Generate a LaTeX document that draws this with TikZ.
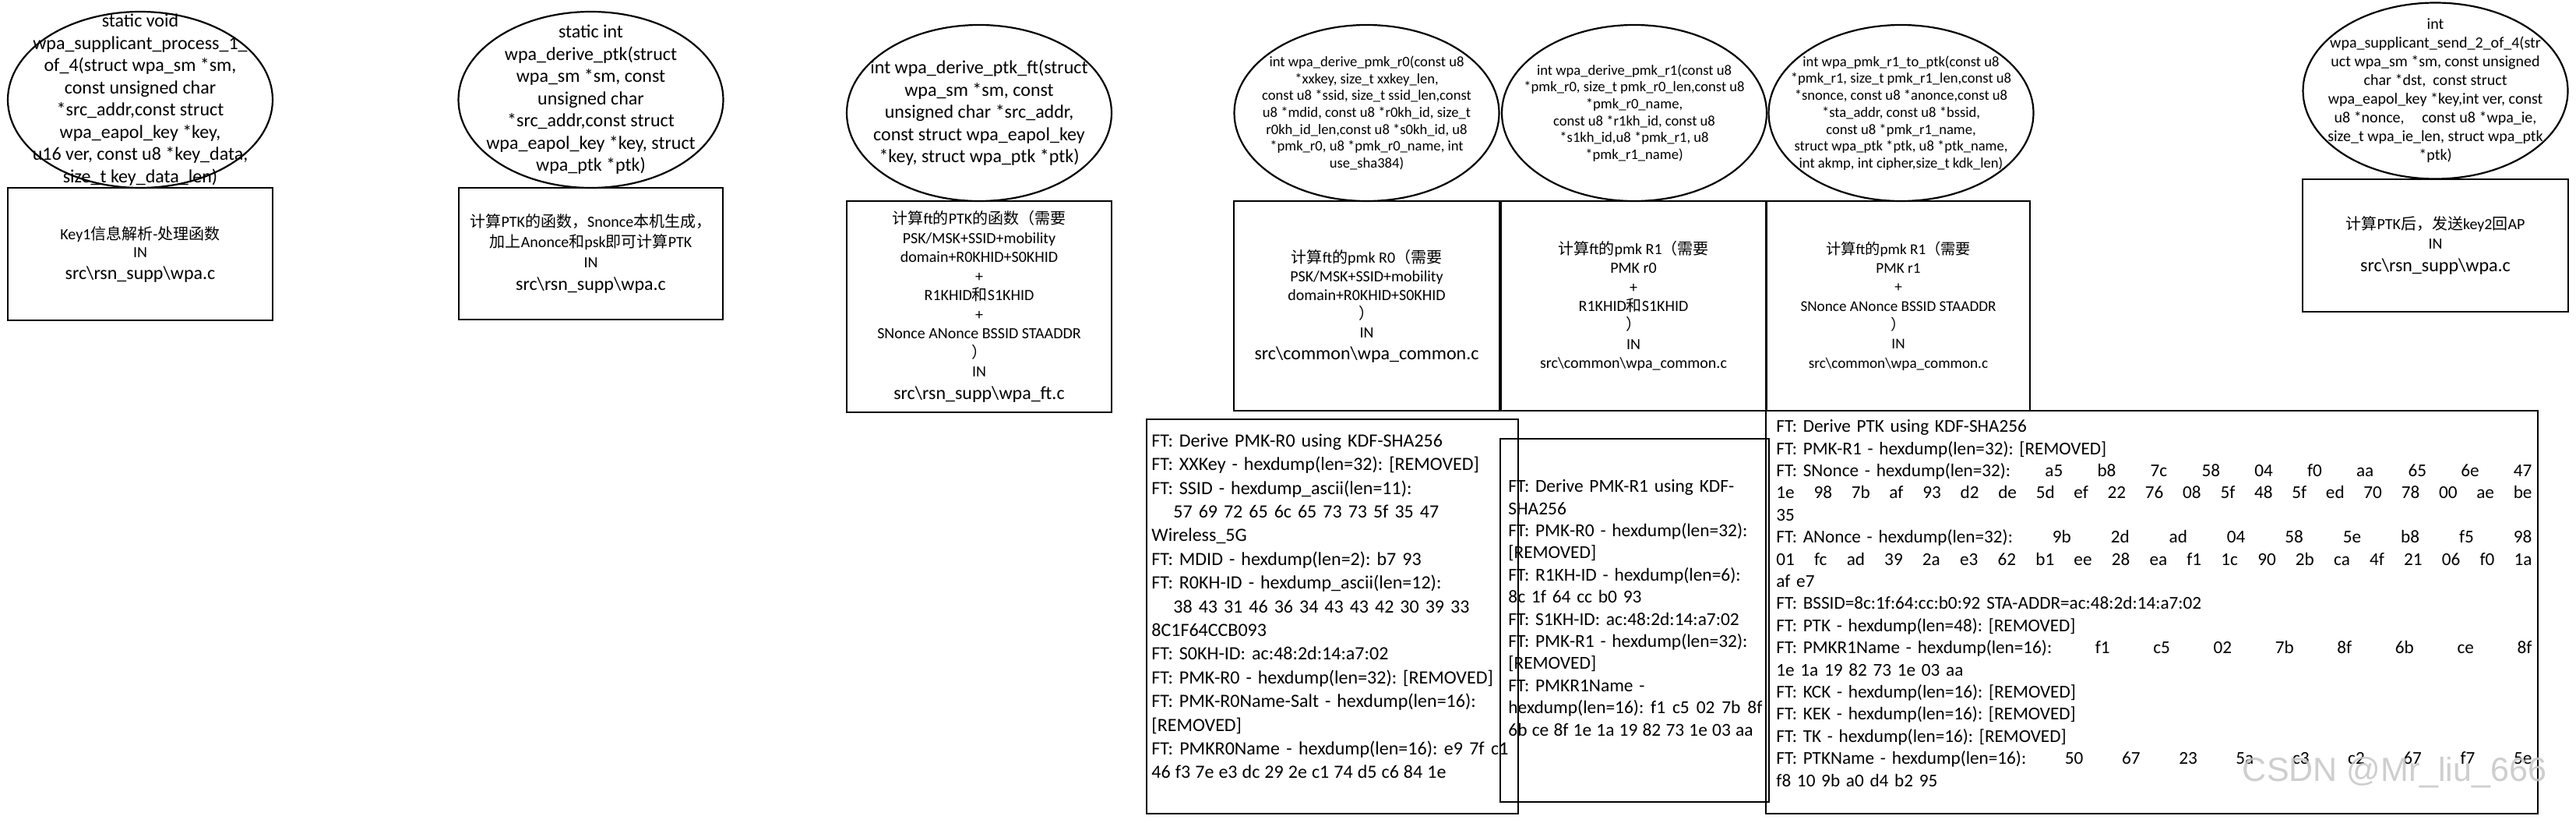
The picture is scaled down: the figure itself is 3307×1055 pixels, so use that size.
\documentclass[tikz,border=0pt]{standalone}
\usepackage{fontspec}
\setmainfont{Carlito}
\newfontfamily\cjk{Noto Sans CJK SC}
\newfontfamily\wmfont{Liberation Sans}
\usetikzlibrary{shapes.geometric}
\newcommand\zh[1]{{\cjk #1}}
\newcommand\sq[2]{\leavevmode\hbox to #1{\spaceskip=\fontdimen2\font plus 1fil minus 0.5\fontdimen2\font\relax #2}}
\newcommand\jt[3]{\leavevmode\hbox to #1{#2{\spaceskip=\fontdimen2\font plus 1fil\relax\space#3}}}
\newcommand\BSL{\textbackslash}
\newcommand\fsz[2]{\fontsize{#1}{#2}\selectfont}
\frenchspacing
\tikzset{
  ell/.style={draw, ellipse, line width=1.1pt, inner sep=0pt, minimum width=170pt, minimum height=113pt},
  etext/.style={align=center, inner sep=0pt, font=\fsz{12}{14.25}},
  esmall/.style={align=center, inner sep=0pt, font=\fsz{9.3}{10.85}},
  box/.style={draw, rectangle, line width=1.1pt, inner sep=0pt, align=center},
  logtext/.style={align=left, inner sep=0pt, anchor=west},
}
\begin{document}
\begin{tikzpicture}[x=0.5pt,y=-0.5pt]
\fill[white] (0,0) rectangle (3307,1055);
\useasboundingbox (0,0) rectangle (3307,1055);

% ---------- ellipses ----------
\node[ell] (e1) at (180,128) {};
\node[etext] (t1) at (e1.center) {static void\\ wpa\_supplicant\_process\_1\_\\ of\_4(struct wpa\_sm *sm,\\ const unsigned char\\ {}*src\_addr,const struct\\ wpa\_eapol\_key *key,\\ u16 ver, const u8 *key\_data,\\ size\_t key\_data\_len)};

\node[ell] (e2) at (758.5,128) {};
\node[etext] (t2) at (e2.center) {static int\\ wpa\_derive\_ptk(struct\\ wpa\_sm *sm, const\\ unsigned char\\ {}*src\_addr,const struct\\ wpa\_eapol\_key *key, struct\\ wpa\_ptk *ptk)};

\node[ell] (e3) at (1257,145) {};
\node[etext] (t3) at (e3.center) {int wpa\_derive\_ptk\_ft(struct\\ wpa\_sm *sm, const\\ unsigned char *src\_addr,\\ const struct wpa\_eapol\_key\\ {}*key, struct wpa\_ptk *ptk)};

\node[ell] (e4) at (1754.5,145) {};
\node[esmall] (t4) at (e4.center) {int wpa\_derive\_pmk\_r0(const u8\\ {}*xxkey, size\_t xxkey\_len,\\ const u8 *ssid, size\_t ssid\_len,const\\ u8 *mdid, const u8 *r0kh\_id, size\_t\\ r0kh\_id\_len,const u8 *s0kh\_id, u8\\ {}*pmk\_r0, u8 *pmk\_r0\_name, int\\ use\_sha384)};

\node[ell] (e5) at (2098,145) {};
\node[esmall] (t5) at (e5.center) {int wpa\_derive\_pmk\_r1(const u8\\ {}*pmk\_r0, size\_t pmk\_r0\_len,const u8\\ {}*pmk\_r0\_name,\\ const u8 *r1kh\_id, const u8\\ {}*s1kh\_id,u8 *pmk\_r1, u8\\ {}*pmk\_r1\_name)};

\node[ell] (e6) at (2440.5,145) {};
\node[esmall] (t6) at (e6.center) {int wpa\_pmk\_r1\_to\_ptk(const u8\\ {}*pmk\_r1, size\_t pmk\_r1\_len,const u8\\ {}*snonce, const u8 *anonce,const u8\\ {}*sta\_addr, const u8 *bssid,\\ const u8 *pmk\_r1\_name,\\ struct wpa\_ptk *ptk, u8 *ptk\_name,\\ int akmp, int cipher,size\_t kdk\_len)};

\node[ell] (e7) at (3126.5,116.5) {};
\node[etext, font=\fsz{10}{12}] (t7) at (e7.center) {int\\ wpa\_supplicant\_send\_2\_of\_4(str\\ uct wpa\_sm *sm, const unsigned\\ char *dst,\ \ const struct\\ wpa\_eapol\_key *key,int ver, const\\ u8 *nonce,\ \ \ \ \ const u8 *wpa\_ie,\\ size\_t wpa\_ie\_len, struct wpa\_ptk\\ {}*ptk)};

% ---------- description boxes ----------
\node[box, minimum width=170pt, minimum height=85pt, font=\fsz{10}{11.5}] (b1) at (180,326)
  {Key1\zh{信息解析}-\zh{处理函数}\\ IN\\[2.5pt] {\fsz{12}{14}src\BSL rsn\_supp\BSL wpa.c}};

\node[box, minimum width=169.5pt, minimum height=84.5pt, font=\fsz{10}{13}] (b2) at (758.5,325.5)
  {\zh{计算}PTK\zh{的函数，}Snonce\zh{本机生成，}\\ \zh{加上}Anonce\zh{和}psk\zh{即可计算}PTK\\ IN\\[1.5pt] {\fsz{12}{14}src\BSL rsn\_supp\BSL wpa.c}};

\node[box, minimum width=170pt, minimum height=135.5pt, font=\fsz{10}{12.25}] (b3) at (1257,393.5)
  {\zh{计算}ft\zh{的}PTK\zh{的函数（需要}\\ PSK/MSK+SSID+mobility\\ domain+R0KHID+S0KHID\\ +\\ R1KHID\zh{和}S1KHID\\ +\\ SNonce ANonce BSSID STAADDR\\ \zh{）}\\ IN\\[2pt] {\fsz{12}{14}src\BSL rsn\_supp\BSL wpa\_ft.c}};

\node[box, minimum width=170.5pt, minimum height=134.5pt, font=\fsz{10}{12}] (b4) at (1754.5,392.5)
  {\zh{计算}ft\zh{的}pmk R0\zh{（需要}\\ PSK/MSK+SSID+mobility\\ domain+R0KHID+S0KHID\\ \zh{）}\\ IN\\[2pt] {\fsz{12}{14}src\BSL common\BSL wpa\_common.c}};

\node[box, minimum width=170pt, minimum height=134.5pt, font=\fsz{10}{12.15}] (b5) at (2097,392.5)
  {\zh{计算}ft\zh{的}pmk R1\zh{（需要}\\ PMK r0\\ +\\ R1KHID\zh{和}S1KHID\\ \zh{）}\\ IN\\ src\BSL common\BSL wpa\_common.c};

\node[box, minimum width=169pt, minimum height=134.5pt, font=\fsz{9.6}{12.15}] (b6) at (2437,392.5)
  {\zh{计算}ft\zh{的}pmk R1\zh{（需要}\\ PMK r1\\ +\\ SNonce ANonce BSSID STAADDR\\ \zh{）}\\ IN\\ src\BSL common\BSL wpa\_common.c};

\node[box, minimum width=170.5pt, minimum height=85pt, font=\fsz{10}{12.5}] (b7) at (3126.5,315)
  {\zh{计算}PTK\zh{后，发送}key2\zh{回}AP\\ IN\\[2pt] {\fsz{12}{14}src\BSL rsn\_supp\BSL wpa.c}};

% ---------- log boxes ----------
\node[box, minimum width=238.5pt, minimum height=253pt] (la) at (1710.5,791) {};
\node[logtext, text width=240pt, font=\fsz{12}{15.2}] (lat) at (1478,778)
  {FT: Derive PMK-R0 using KDF-SHA256\\
   FT: XXKey - hexdump(len=32): [REMOVED]\\
   FT: SSID - hexdump\_ascii(len=11):\\
   \hspace*{14pt}57 69 72 65 6c 65 73 73 5f 35 47\\
   Wireless\_5G\\
   FT: MDID - hexdump(len=2): b7 93\\
   FT: R0KH-ID - hexdump\_ascii(len=12):\\
   \hspace*{14pt}38 43 31 46 36 34 43 43 42 30 39 33\\
   8C1F64CCB093\\
   FT: S0KH-ID: ac:48:2d:14:a7:02\\
   FT: PMK-R0 - hexdump(len=32): [REMOVED]\\
   FT: PMK-R0Name-Salt - hexdump(len=16):\\
   {}[REMOVED]\\
   \sq{229pt}{FT: PMKR0Name - hexdump(len=16): e9 7f c1}\\
   \sq{189pt}{46 f3 7e e3 dc 29 2e c1 74 d5 c6 84 1e}};

\node[box, minimum width=172.5pt, minimum height=233pt] (lb) at (2098.5,796) {};
\node[logtext, text width=180pt, font=\fsz{11.7}{14.2}] (lbt) at (1936,780)
  {FT: Derive PMK-R1 using KDF-\\
   SHA256\\
   FT: PMK-R0 - hexdump(len=32):\\
   {}[REMOVED]\\
   FT: R1KH-ID - hexdump(len=6):\\
   8c 1f 64 cc b0 93\\
   FT: S1KH-ID: ac:48:2d:14:a7:02\\
   FT: PMK-R1 - hexdump(len=32):\\
   {}[REMOVED]\\
   FT: PMKR1Name -\\
   \sq{163pt}{hexdump(len=16): f1 c5 02 7b 8f}\\
   \sq{157pt}{6b ce 8f 1e 1a 19 82 73 1e 03 aa}};

\node[box, minimum width=495.5pt, minimum height=258.5pt] (lc) at (2762.5,785.5) {};
\node[logtext, text width=490pt, font=\fsz{11.6}{14.2}] (lct) at (2280,774)
  {FT: Derive PTK using KDF-SHA256\\
   FT: PMK-R1 - hexdump(len=32): [REMOVED]\\
   \jt{485pt}{FT: SNonce - hexdump(len=32):}{a5 b8 7c 58 04 f0 aa 65 6e 47}\\
   \jt{485pt}{1e}{98 7b af 93 d2 de 5d ef 22 76 08 5f 48 5f ed 70 78 00 ae be}\\
   35\\
   \jt{485pt}{FT: ANonce - hexdump(len=32):}{9b 2d ad 04 58 5e b8 f5 98}\\
   \jt{485pt}{01}{fc ad 39 2a e3 62 b1 ee 28 ea f1 1c 90 2b ca 4f 21 06 f0 1a}\\
   af e7\\
   FT: BSSID=8c:1f:64:cc:b0:92 STA-ADDR=ac:48:2d:14:a7:02\\
   FT: PTK - hexdump(len=48): [REMOVED]\\
   \jt{485pt}{FT: PMKR1Name - hexdump(len=16):}{f1 c5 02 7b 8f 6b ce 8f}\\
   1e 1a 19 82 73 1e 03 aa\\
   FT: KCK - hexdump(len=16): [REMOVED]\\
   FT: KEK - hexdump(len=16): [REMOVED]\\
   FT: TK - hexdump(len=16): [REMOVED]\\
   \jt{485pt}{FT: PTKName - hexdump(len=16):}{50 67 23 5a c3 c2 67 f7 5e}\\
   f8 10 9b a0 d4 b2 95};

% ---------- watermark ----------
\node[inner sep=0pt, font=\wmfont\fsz{21.5}{24}, text=gray!45, opacity=0.85] (wm) at (3074,991) {CSDN @Mr\_liu\_666};
\end{tikzpicture}
\end{document}
